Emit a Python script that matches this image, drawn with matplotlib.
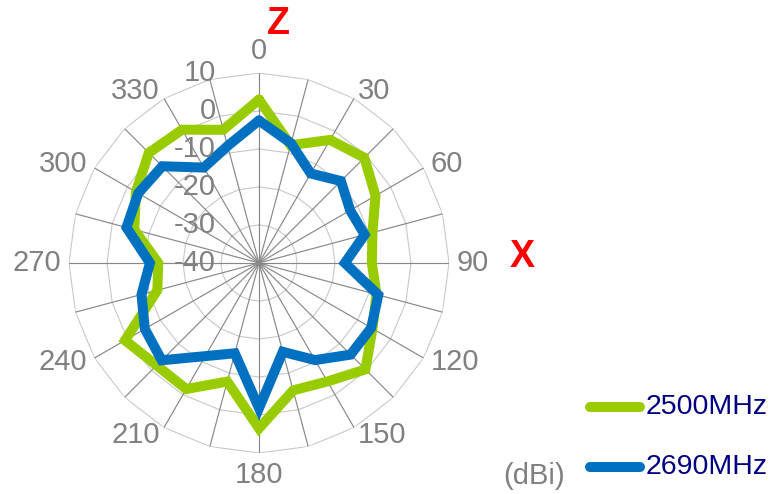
import numpy as np
import matplotlib
matplotlib.use('Agg')
import matplotlib.pyplot as plt
from matplotlib.lines import Line2D

plt.rcParams['font.family'] = ['Liberation Sans', 'DejaVu Sans']

# 角度 (每 15 度一個量測點)
angles = np.arange(0, 360, 15)
angle_labels = [str(a) if a % 30 == 0 else '' for a in angles]

# 增益 (dBi)
gain_2500 = [3.0, -7.9, -2.6, -0.8, -4.6, -9.1, -10.3, -8.0, -5.5, -0.4, -4.0, -5.3,
             3.5, -7.7, -1.7, -1.9, 0.7, -12.3, -13.5, -6.0, -2.6, 1.0, 0.5, -3.7]
gain_2690 = [-2.5, -7.4, -12.8, -9.5, -12.3, -11.2, -17.4, -7.5, -5.9, -5.9, -10.5, -15.8,
             -1.8, -15.4, -11.7, -3.8, -5.3, -8.0, -11.3, -3.9, -3.3, -4.0, -11.0, -8.1]
series_names = ['2500MHz', '2690MHz']
series_colors = ['#99CC00', '#0070C0']

r_ticks = [10, 0, -10, -20, -30, -40]
r_min, r_max = -40, 10

gray = '#808080'

fig = plt.figure(figsize=(7.79, 4.94), dpi=100)
W, H = 779.0, 494.0
cx, cy, R = 259.0, 263.0, 190.0
ax = fig.add_axes([(cx - R) / W, 1 - (cy + R) / H, 2 * R / W, 2 * R / H], projection='polar')
ax.set_theta_zero_location('N')
ax.set_theta_direction(-1)
ax.set_ylim(r_min, r_max)
ax.grid(False)
ax.set_xticks([])
ax.set_yticks([])
ax.spines['polar'].set_visible(False)
ax.patch.set_alpha(0)

theta = np.deg2rad(angles)
theta_closed = np.append(theta, theta[0])

# 多邊形格線
for v in r_ticks[:-1]:
    ax.plot(theta_closed, [v] * len(theta_closed), color='#C8C8C8', lw=0.8, zorder=1)
# 放射線
for t in theta:
    ax.plot([t, t], [r_min, r_max], color='#888888', lw=0.85, zorder=1)

# 資料線
for vals, name, col in zip([gain_2500, gain_2690], series_names, series_colors):
    ax.plot(theta_closed, list(vals) + [vals[0]], color=col, lw=7.2,
            solid_joinstyle='miter', solid_capstyle='round', zorder=3, label=name, clip_on=False)

# 角度標籤
off = 5.8  # points
for t, lab in zip(theta, angle_labels):
    if not lab:
        continue
    s, c = np.sin(t), np.cos(t)
    ha = 'left' if s > 0.01 else ('right' if s < -0.01 else 'center')
    va = 'center' if abs(s) > 0.01 else ('bottom' if c > 0 else 'top')
    ax.annotate(lab, xy=(t, r_max), xytext=(off * s, off * c), textcoords='offset points',
                ha=ha, va=va, fontsize=21, color=gray, annotation_clip=False)

# 徑向刻度標籤
for v in r_ticks:
    ax.annotate(str(v), xy=(0, v), xytext=(-31, 0), textcoords='offset points',
                ha='right', va='center', fontsize=21, color=gray, annotation_clip=False)

# 軸名稱
fig.text(278.5 / W, 1 - 24 / H, 'Z', color='red', fontsize=27, fontweight='bold',
         ha='center', va='center')
fig.text(522 / W, 1 - 257 / H, 'X', color='red', fontsize=27, fontweight='bold',
         ha='center', va='center')

# 圖例
legend_y = [407, 467]
for y, name, col in zip(legend_y, series_names, series_colors):
    fig.add_artist(Line2D([590 / W, 640 / W], [1 - y / H, 1 - y / H], color=col, lw=7.2,
                          solid_capstyle='round', transform=fig.transFigure))
    fig.text(646 / W, 1 - y / H, name, color='#000080', fontsize=20.5, ha='left', va='center')
fig.text(534 / W, 1 - 476 / H, '(dBi)', color=gray, fontsize=21, ha='center', va='center')

fig.savefig('out.png', dpi=100)
